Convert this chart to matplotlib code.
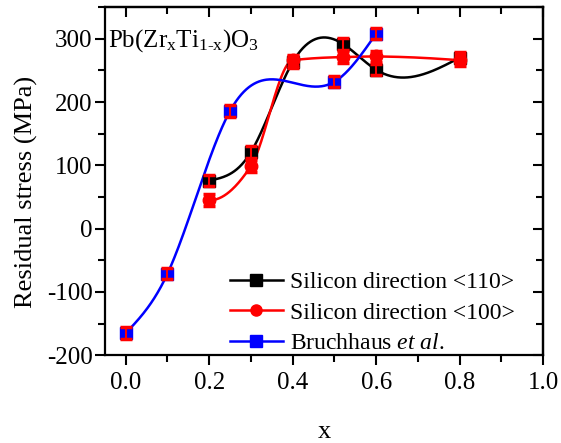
import numpy as np
import matplotlib
matplotlib.use("Agg")
import matplotlib.pyplot as plt
from matplotlib.lines import Line2D

plt.rcParams['font.family'] = ['Liberation Serif', 'DejaVu Serif']
plt.rcParams['mathtext.fontset'] = 'custom'
plt.rcParams['mathtext.rm'] = 'Liberation Serif'
plt.rcParams['mathtext.it'] = 'Liberation Serif:italic'
plt.rcParams['axes.unicode_minus'] = False

# Data
x_110 = [0.2, 0.3, 0.4, 0.52, 0.6, 0.8]
y_110 = [76, 121, 263, 292, 251, 270]
x_100 = [0.2, 0.3, 0.4, 0.52, 0.6, 0.8]
y_100 = [45, 99, 266, 271, 272, 266]
x_bru = [0.0, 0.1, 0.25, 0.5, 0.6]
y_bru = [-165, -71, 186, 232, 308]
err = 9


def natural_spline(x, y, n=300):
    x = np.asarray(x, float)
    y = np.asarray(y, float)
    m = len(x)
    h = np.diff(x)
    A = np.zeros((m, m))
    r = np.zeros(m)
    A[0, 0] = A[-1, -1] = 1
    for i in range(1, m - 1):
        A[i, i - 1] = h[i - 1]
        A[i, i] = 2 * (h[i - 1] + h[i])
        A[i, i + 1] = h[i]
        r[i] = 6 * ((y[i + 1] - y[i]) / h[i] - (y[i] - y[i - 1]) / h[i - 1])
    M = np.linalg.solve(A, r)
    xs = np.linspace(x[0], x[-1], n)
    idx = np.clip(np.searchsorted(x, xs) - 1, 0, m - 2)
    x0, x1 = x[idx], x[idx + 1]
    hh = x1 - x0
    a = (x1 - xs) / hh
    b = (xs - x0) / hh
    ys = (a * y[idx] + b * y[idx + 1]
          + ((a ** 3 - a) * M[idx] + (b ** 3 - b) * M[idx + 1]) * hh ** 2 / 6)
    return xs, ys


def akima_spline(x, y, n=300):
    x = np.asarray(x, float)
    y = np.asarray(y, float)
    m = np.diff(y) / np.diff(x)
    # two extrapolated slopes at each end
    mm = np.concatenate([[3 * m[0] - 2 * m[1], 2 * m[0] - m[1]], m,
                         [2 * m[-1] - m[-2], 3 * m[-1] - 2 * m[-2]]])
    t = np.zeros(len(x))
    for i in range(len(x)):
        m1, m2, m3, m4 = mm[i], mm[i + 1], mm[i + 2], mm[i + 3]
        w1, w2 = abs(m4 - m3), abs(m2 - m1)
        t[i] = (m2 + m3) / 2 if w1 + w2 == 0 else (w1 * m2 + w2 * m3) / (w1 + w2)
    xs = np.linspace(x[0], x[-1], n)
    idx = np.clip(np.searchsorted(x, xs) - 1, 0, len(x) - 2)
    h = x[idx + 1] - x[idx]
    s = (xs - x[idx]) / h
    h00 = 2 * s ** 3 - 3 * s ** 2 + 1
    h10 = s ** 3 - 2 * s ** 2 + s
    h01 = -2 * s ** 3 + 3 * s ** 2
    h11 = s ** 3 - s ** 2
    ys = h00 * y[idx] + h10 * h * t[idx] + h01 * y[idx + 1] + h11 * h * t[idx + 1]
    return xs, ys


fig, ax = plt.subplots(figsize=(5.61, 4.43), dpi=100)
fig.subplots_adjust(left=0.187, right=0.968, top=0.984, bottom=0.198)

series = [
    (x_110, y_110, 'black', 's', 8, natural_spline, 'Silicon direction <110>'),
    (x_100, y_100, 'red', 'o', 9, akima_spline, 'Silicon direction <100>'),
    (x_bru, y_bru, 'blue', 's', 8, natural_spline, r'Bruchhaus $\mathit{et\ al}$.'),
]

handles = []
for xs, ys, c, mk, ms, smooth, lab in series:
    sx, sy = smooth(xs, ys)
    ax.plot(sx, sy, color=c, lw=1.8, zorder=2)
    ax.plot(xs, ys, linestyle='none', marker=mk, ms=ms, mfc=c, mec=c, zorder=3)
    # red error caps drawn over the symbols
    ax.errorbar(xs, ys, yerr=err, fmt='none', ecolor='red', elinewidth=1.5,
                capsize=4, capthick=2.5, zorder=4)
    handles.append(Line2D([], [], color=c, lw=1.8, marker=mk, ms=8,
                          mfc=c, mec=c, label=lab))

ax.set_xlim(-0.05, 1.0)
ax.set_ylim(-200, 350)
ax.set_xticks(np.arange(0, 1.01, 0.2))
ax.set_xticks(np.arange(0, 1.01, 0.1), minor=True)
ax.set_yticks(np.arange(-200, 301, 100))
ax.set_yticks(np.arange(-200, 351, 50), minor=True)
ax.set_xticklabels(['0.0', '0.2', '0.4', '0.6', '0.8', '1.0'])

for sp in ax.spines.values():
    sp.set_linewidth(1.6)

ax.tick_params(axis='both', which='both', labelsize=18, width=1.5)
ax.tick_params(axis='both', which='major', length=7)
ax.tick_params(axis='both', which='minor', length=5)
ax.tick_params(axis='x', which='both', direction='out', top=False, pad=5)
ax.tick_params(axis='y', which='both', direction='out', right=False, pad=2)

# Inward ticks on the top and right edges
secx = ax.secondary_xaxis('top')
secx.set_xticks(np.arange(0, 1.01, 0.2))
secx.set_xticks(np.arange(0, 1.01, 0.1), minor=True)
secx.tick_params(which='both', direction='in', labeltop=False, width=1.5)
secx.tick_params(which='major', length=7)
secx.tick_params(which='minor', length=5)
secy = ax.secondary_yaxis('right')
secy.set_yticks(np.arange(-200, 301, 100))
secy.set_yticks(np.arange(-200, 351, 50), minor=True)
secy.tick_params(which='both', direction='in', labelright=False, width=1.5)
secy.tick_params(which='major', length=7)
secy.tick_params(which='minor', length=5)
secx.spines['top'].set_linewidth(1.6)
secy.spines['right'].set_linewidth(1.6)

ax.set_xlabel('x', fontsize=19)
ax.xaxis.set_label_coords(0.5, -0.19)
ax.set_ylabel('Residual stress (MPa)', fontsize=19)
ax.yaxis.set_label_coords(-0.152, 0.468)

ax.text(0.008, 0.905, r'$\mathrm{Pb(Zr_xTi_{\text{1-x}})O_3}$', transform=ax.transAxes,
        fontsize=18, va='center', ha='left')

ax.legend(handles=handles, loc='lower right', frameon=False, fontsize=17,
          handlelength=2.25, handletextpad=0.3, labelspacing=0.38,
          borderaxespad=0, bbox_to_anchor=(0.957, -0.024))

fig.savefig('out.png', dpi=100)
